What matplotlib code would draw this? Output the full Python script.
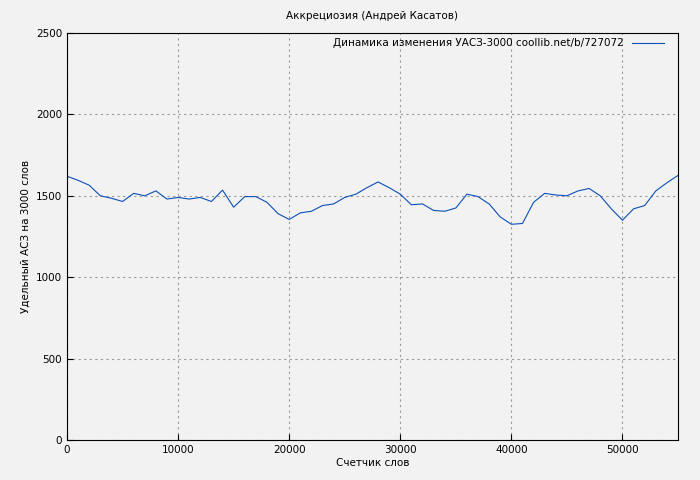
import numpy as np
import matplotlib.pyplot as plt

words = np.arange(0, 56000, 1000)
uasz = [1620, 1595, 1565, 1500, 1485, 1465, 1515, 1500, 1530, 1480,
        1490, 1480, 1490, 1465, 1535, 1430, 1495, 1495, 1460, 1390,
        1355, 1395, 1405, 1440, 1450, 1490, 1510, 1550, 1585, 1550,
        1510, 1445, 1450, 1410, 1405, 1425, 1510, 1495, 1450, 1370,
        1325, 1330, 1460, 1515, 1505, 1500, 1530, 1545, 1500, 1420,
        1350, 1420, 1440, 1530, 1580, 1625]

plt.rcParams['font.size'] = 7.5
fig = plt.figure(figsize=(7, 4.8), dpi=100, facecolor='#f2f2f2')
ax = fig.add_axes([67/700, 40/480, 611/700, 407/480])
ax.set_facecolor('#f2f2f2')
ax.plot(words, uasz, color='#0b4fb8', linewidth=0.8,
        label='Динамика изменения УАСЗ-3000 coollib.net/b/727072')
ax.set_xlim(0, 55000)
ax.set_ylim(0, 2500)
ax.set_xticks(range(0, 55000, 10000))
ax.set_yticks(range(0, 2501, 500))
ax.grid(True, color='#999999', linestyle=(0, (2, 3)), linewidth=0.8)
ax.tick_params(direction='in', length=4)
ax.set_title('Аккрециозия (Андрей Касатов)', fontsize=7.5, pad=10)
ax.set_xlabel('Счетчик слов', labelpad=2)
ax.set_ylabel('Удельный АСЗ на 3000 слов')
leg = ax.legend(loc='upper right', frameon=False, markerfirst=False,
                handlelength=3.0, borderaxespad=0.1,
                bbox_to_anchor=(0.985, 1.0))
fig.savefig('out.png', dpi=100, facecolor=fig.get_facecolor())
